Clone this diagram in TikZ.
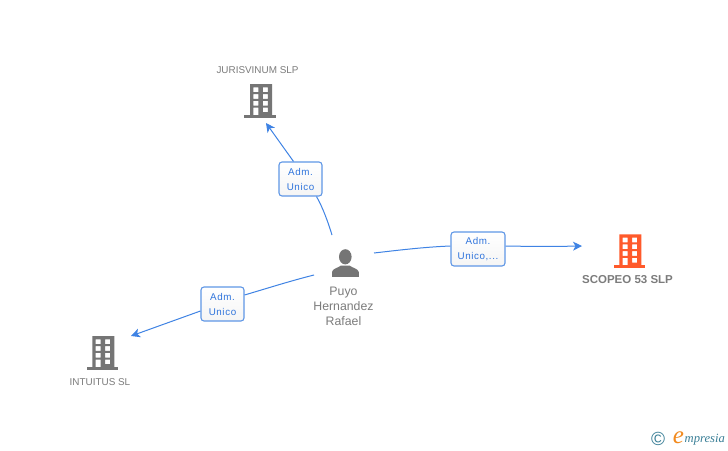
\documentclass[tikz,border=0pt]{standalone}
\usepackage{fontspec}
\setmainfont{Liberation Sans}
\newfontfamily\logofont{Liberation Serif}
\newfontfamily\rolefont[LetterSpace=6]{Liberation Sans}
\usetikzlibrary{arrows.meta}
\definecolor{linkblue}{HTML}{3F83E4}
\definecolor{boxblue}{HTML}{5F97E6}
\definecolor{labtext}{HTML}{2F74DC}
\definecolor{icongray}{HTML}{757575}
\definecolor{nametext}{HTML}{7C7C7C}
\definecolor{iconorange}{HTML}{FF5A2B}
\definecolor{logoteal}{HTML}{3A7F97}
\definecolor{logoorange}{HTML}{F28A1E}
\tikzset{
  linkline/.style={draw=linkblue,line width=1pt},
  tiplink/.style={linkline,-{Stealth[length=9pt,width=9pt,inset=2.5pt]}},
  rolebox/.style={draw=boxblue,line width=1.1pt,rounded corners=3pt,top color=white,bottom color=black!4,
    text=labtext,font=\rolefont\fontsize{9.8}{15}\selectfont,align=center,inner sep=0pt,anchor=center},
  nametag/.style={text=nametext,font=\fontsize{9.9}{15}\selectfont,align=center,inner sep=0pt},
}
% building icon: #1 = centre x, #2 = top y, #3 = colour
\newcommand{\buildingicon}[3]{
  \begin{scope}[shift={(#1,#2)}]
    \fill[#3,even odd rule]
      (-11,0) rectangle (11,31)
      (-7.7,3.4) rectangle (-2.7,8.1)
      (1.8,3.4) rectangle (6.8,8.1)
      (-7.7,10.1) rectangle (-2.7,14.8)
      (1.8,10.1) rectangle (6.8,14.8)
      (-7.7,16.8) rectangle (-2.7,21.5)
      (1.8,16.8) rectangle (6.8,21.5)
      (-7.7,23.5) rectangle (-2.7,31)
      (1.8,23.5) rectangle (6.8,28.2);
    \fill[#3] (-16.7,31) rectangle (15,33.7);
  \end{scope}
}
\begin{document}
\begin{tikzpicture}[x=1pt,y=-1pt]
\useasboundingbox (0,0) rectangle (728,450);
\fill[white] (0,0) rectangle (728,450);
\coordinate (jurend) at (266,123);
\coordinate (scoend) at (582,246);
\coordinate (intend) at (131,336);
\coordinate (perjur) at (332,235);
\coordinate (persco) at (374,253);
\coordinate (perint) at (314,275);
% connectors and role boxes
\node[rolebox,minimum width=43pt,minimum height=34pt] (b1) at (300.5,179) {Adm.\\Unico};
\node[rolebox,minimum width=54pt,minimum height=34pt] (b2) at (478,249) {Adm.\\Unico,...};
\node[rolebox,minimum width=43pt,minimum height=34pt] (b3) at (222.5,304) {Adm.\\Unico};
\draw[linkline] (perjur) .. controls (328,222) and (323,208) .. ([xshift=16pt]b1.south);
\draw[tiplink] ([xshift=-7pt]b1.north) -- (jurend);
\draw[linkline] (persco) .. controls (400,250) and (425,247) .. ([yshift=3pt]b2.west);
\draw[tiplink] ([yshift=3pt]b2.east) .. controls (530,246.5) and (555,246.5) .. (scoend);
\draw[linkline] (perint) .. controls (290,281) and (265,289) .. ([yshift=9pt]b3.east);
\draw[tiplink] ([yshift=-7pt]b3.west) -- (intend);
% icons
\buildingicon{261}{84}{icongray}
\buildingicon{630.4}{234.3}{iconorange}
\buildingicon{103.3}{336}{icongray}
\fill[icongray] (345.3,256.8) ellipse (6.3 and 7.6);
\fill[icongray] (332,276.8) -- (332,272) .. controls (332.5,268.5) and (338,268) .. (341,265.5)
  -- (349.5,265.5) .. controls (352.5,268) and (358,268.5) .. (358.8,272) -- (358.8,276.8) -- cycle;
% names
\node[nametag] (jurname) at (257.5,70) {JURISVINUM SLP};
\node[nametag,font=\fontsize{11.5}{15}\selectfont\bfseries] (sconame) at (627.5,279.5) {SCOPEO 53 SLP};
\node[nametag] (intname) at (100,382) {INTUITUS SL};
\node[nametag,font=\fontsize{12.3}{15}\selectfont,anchor=north] (pername) at (343.5,286.5) {Puyo\\Hernandez\\Rafael};
% logo
\node[inner sep=0pt,text=logoteal,font=\fontsize{19}{19}\selectfont] (copy) at (658,438.5) {©};
\node[inner sep=0pt,text=logoorange,font=\logofont\itshape\fontsize{25}{25}\selectfont] (loge) at (678.5,437.5) {e};
\node[inner sep=0pt,anchor=west,text=logoteal,font=\logofont\itshape\fontsize{12.6}{13}\selectfont] (logw) at (684.5,439.5) {mpresia};
\end{tikzpicture}
\end{document}
